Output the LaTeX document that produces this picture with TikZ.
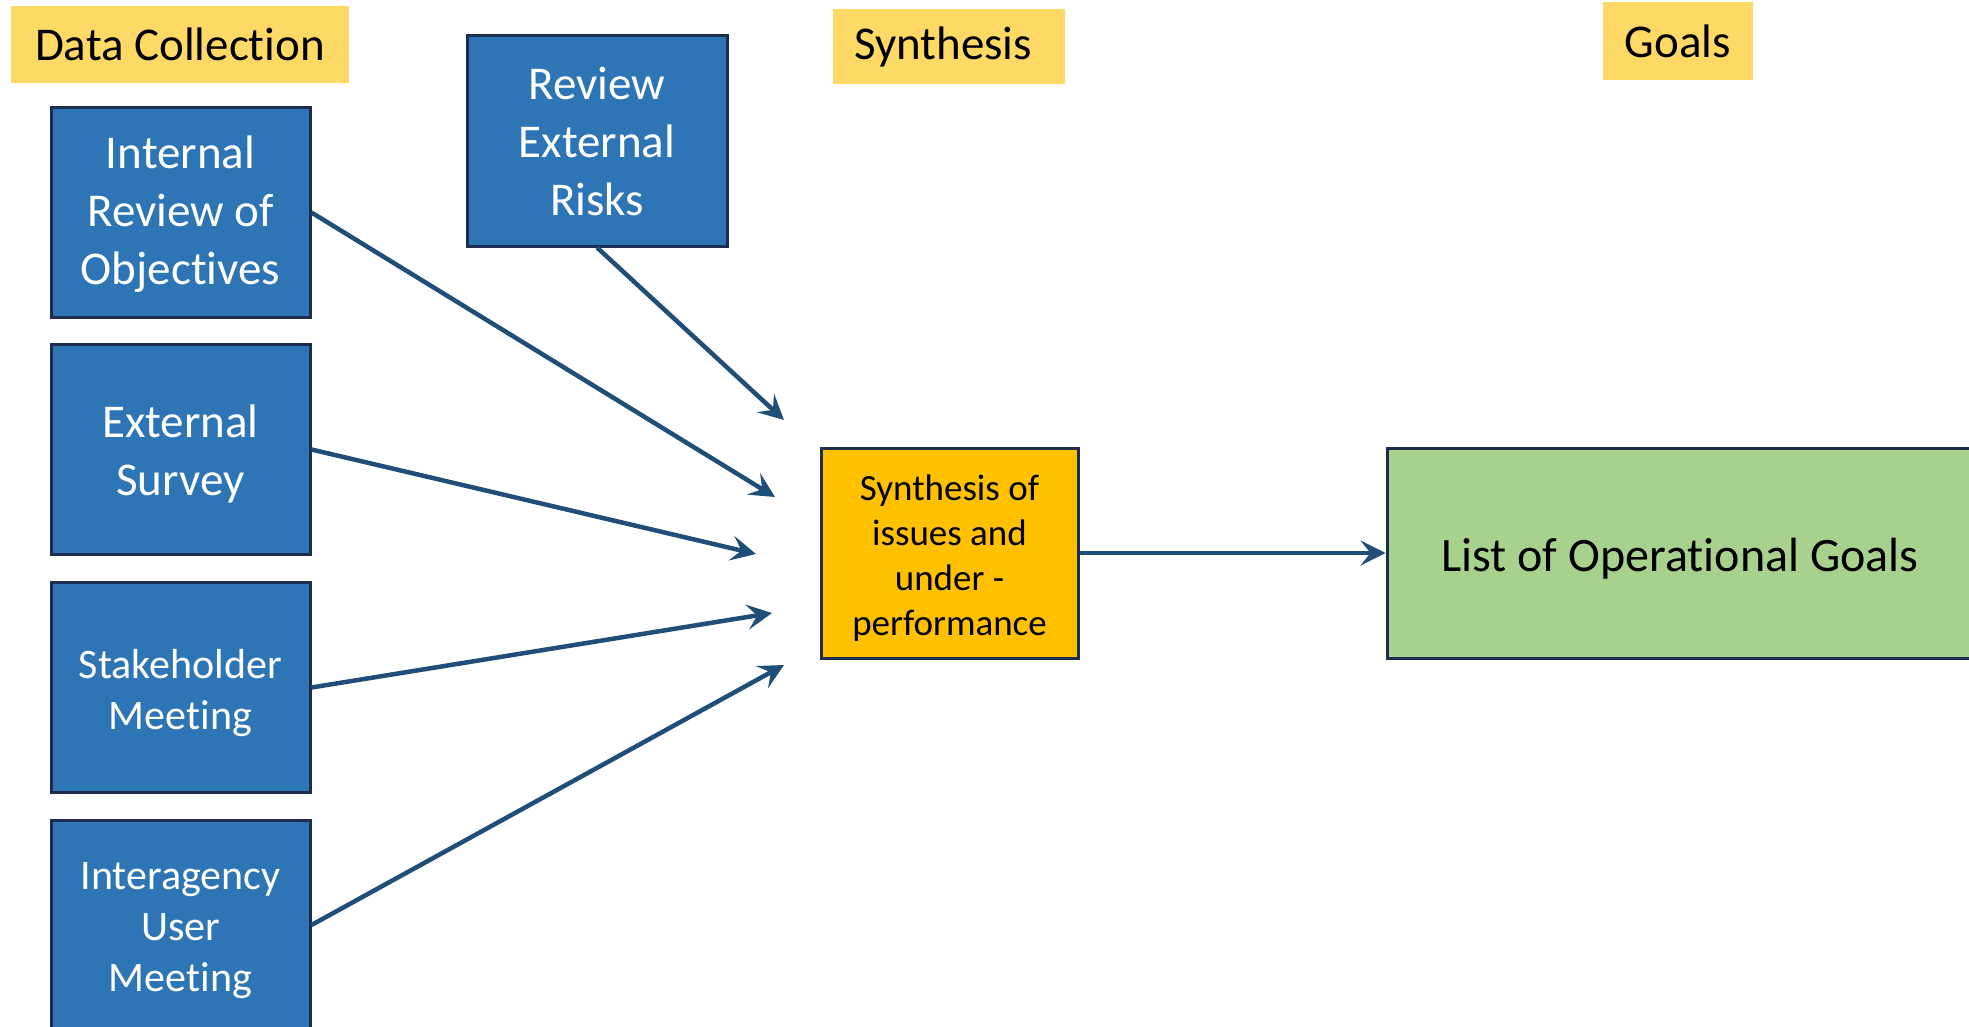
\documentclass[tikz,border=0pt]{standalone}
\usepackage{fontspec}
\setmainfont{Carlito}[Ligatures=NoCommon]
\usetikzlibrary{arrows.meta}

\definecolor{boxblue}{HTML}{2E75B6}
\definecolor{edgenavy}{HTML}{1C2D4F}
\definecolor{arrowblue}{HTML}{1F4E79}
\definecolor{labelyellow}{HTML}{FFD966}
\definecolor{synthorange}{HTML}{FFC000}
\definecolor{goalgreen}{HTML}{A9D18E}

% strut on a first line, to set the text a little lower in its box
\newcommand\boxstrut[1]{\rule{0pt}{#1}}

\tikzset{
  stagelabel/.style={fill=labelyellow, draw=none, inner sep=0pt,
    font=\fontsize{47}{56}\selectfont, text=black},
  inputbox/.style={rectangle, fill=boxblue, draw=edgenavy, line width=3pt,
    minimum width=259pt, minimum height=210pt, inner sep=0pt,
    align=center, text=white,
    font=\fontsize{47}{58}\selectfont},
  inputsmall/.style={inputbox, font=\fontsize{42}{51}\selectfont},
  synthbox/.style={rectangle, fill=synthorange, draw=edgenavy, line width=3pt,
    minimum width=257pt, minimum height=210pt, inner sep=0pt,
    align=center, text=black,
    font=\fontsize{37}{45}\selectfont},
  goalbox/.style={rectangle, fill=goalgreen, draw=edgenavy, line width=3pt,
    minimum width=586pt, minimum height=210pt, inner sep=0pt,
    align=center, text=black,
    font=\fontsize{48}{58}\selectfont},
  flow/.style={draw=arrowblue, line width=4.5pt,
    -{Stealth[length=25pt, width=25pt, inset=10pt]}}
}

\begin{document}
\begin{tikzpicture}[x=1pt, y=-1pt]
  \clip (0,0) rectangle (1969,1027);
  \fill[white] (0,0) rectangle (1969,1027);

  % stage headings
  \node[stagelabel, minimum width=338pt, minimum height=77pt] (hdata) at (180,44.5) {Data Collection};
  \node[stagelabel, minimum width=232pt, minimum height=75pt] (hsynth) at (949,46.5) {\hspace*{-12pt}Synthesis};
  \node[stagelabel, minimum width=150pt, minimum height=78pt] (hgoals) at (1678,41) {Goals};

  % data collection inputs
  \node[inputbox] (internal) at (180.5,212.5) {\boxstrut{36.5pt}Internal\\Review of\\Objectives};
  \node[inputbox, minimum width=260pt] (risks) at (597,141) {\boxstrut{34pt}Review\\External\\Risks};
  \node[inputbox] (survey) at (180.5,449.5) {\boxstrut{41.5pt}External\\Survey};
  \node[inputsmall] (stake) at (180.5,687.5) {\boxstrut{40pt}Stakeholder\\Meeting};
  \node[inputsmall] (inter) at (180.5,925) {\boxstrut{38pt}Interagency\\User\\Meeting};

  % synthesis and goals
  \node[synthbox] (synth) at (949.5,553) {\boxstrut{35pt}Synthesis of\\issues and\\under -\\performance};
  \node[goalbox] (goals) at (1680,553) {\boxstrut{45pt}List of Operational Goals};

  % arrow ends short of the synthesis box
  \coordinate (endrisks) at (784,420);
  \coordinate (endinternal) at (775,497);
  \coordinate (endsurvey) at (756,554);
  \coordinate (endstake) at (772,613);
  \coordinate (endinter) at (784,665);

  \draw[flow] (risks.south) -- (endrisks);
  \draw[flow] (internal.east) -- (endinternal);
  \draw[flow] (survey.east) -- (endsurvey);
  \draw[flow] (stake.east) -- (endstake);
  \draw[flow] (inter.east) -- (endinter);
  \draw[flow] (synth.east) -- (goals.west);
\end{tikzpicture}
\end{document}
